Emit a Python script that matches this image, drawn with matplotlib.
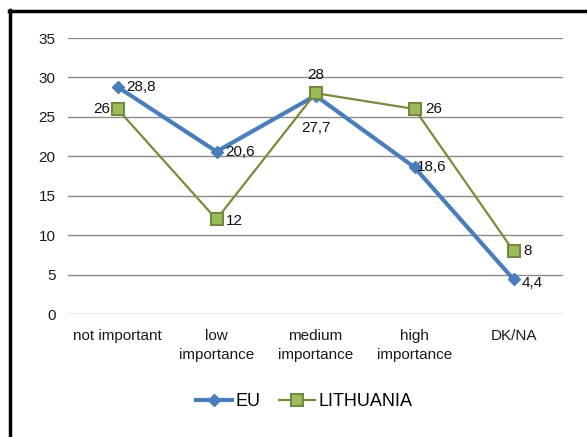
import matplotlib
matplotlib.use("Agg")
import matplotlib.pyplot as plt
from matplotlib.lines import Line2D

categories = ["not important", "low\nimportance", "medium\nimportance", "high\nimportance", "DK/NA"]
eu_values = [28.8, 20.6, 27.7, 18.6, 4.4]
lt_values = [26, 12, 28, 26, 8]
eu_labels = ["28,8", "20,6", "27,7", "18,6", "4,4"]
lt_labels = ["26", "12", "28", "26", "8"]
yticks = [0, 5, 10, 15, 20, 25, 30, 35]

plt.rcParams['font.family'] = ['Liberation Sans', 'DejaVu Sans']

fig = plt.figure(figsize=(5.87, 4.37), dpi=100)
ax = fig.add_axes([68/587, 1-314/437, (563-68)/587, (314-38)/437])

x = list(range(len(categories)))
blue = "#4A7EBB"
green_line = "#7A8C3C"
green_fill = "#9BBB59"
green_edge = "#71893F"

ax.plot(x, eu_values, color=blue, lw=3, marker="D", ms=6.5, mfc=blue, mec=blue, label="EU", zorder=3)
ax.plot(x, lt_values, color=green_line, lw=1.6, marker="s", ms=9, mfc=green_fill, mec=green_edge, mew=1.5, label="LITHUANIA", zorder=4)

ax.set_xlim(-0.5, len(categories)-0.5)
ax.set_ylim(0, 35)
ax.set_yticks(yticks)
ax.set_xticks(x)
ax.set_xticklabels(categories, fontsize=11, color="#1a1a1a", linespacing=1.4)
ax.tick_params(axis="y", labelsize=11, colors="#1a1a1a", length=0, pad=9)
ax.tick_params(axis="x", length=0, pad=11)
ax.grid(axis="y", color="#8a8a8a", lw=1)
ax.set_axisbelow(True)
for s in ax.spines.values():
    s.set_visible(False)

fs = 11
eu_off = [(6, 0, "left", "center"), (6, 0, "left", "center"), (0, -18, "center", "top"), (2, 0, "left", "center"), (6, -3, "left", "center")]
for xi, v, t, (dx, dy, ha, va) in zip(x, eu_values, eu_labels, eu_off):
    ax.annotate(t, (xi, v), xytext=(dx, dy), textcoords="offset points", ha=ha, va=va, fontsize=fs, color="#111111")
lt_off = [(-5, 0, "right", "center"), (7, -1, "left", "center"), (0, 8, "center", "bottom"), (8, 0, "left", "center"), (7, 0, "left", "center")]
for xi, v, t, (dx, dy, ha, va) in zip(x, lt_values, lt_labels, lt_off):
    ax.annotate(t, (xi, v), xytext=(dx, dy), textcoords="offset points", ha=ha, va=va, fontsize=fs, color="#111111")

leg = fig.legend(loc="center", bbox_to_anchor=(304/587, 1-402/437), ncol=2, frameon=False,
                 fontsize=13, handlelength=2.0, columnspacing=1.0, handletextpad=0.2)

# border (left and top)
fig.add_artist(Line2D([10/587, 10/587], [0, 1-10/437], color="black", lw=2.5, transform=fig.transFigure))
fig.add_artist(Line2D([9/587, 1], [1-11/437, 1-11/437], color="black", lw=2.5, transform=fig.transFigure))

fig.savefig("out.png", dpi=100)
